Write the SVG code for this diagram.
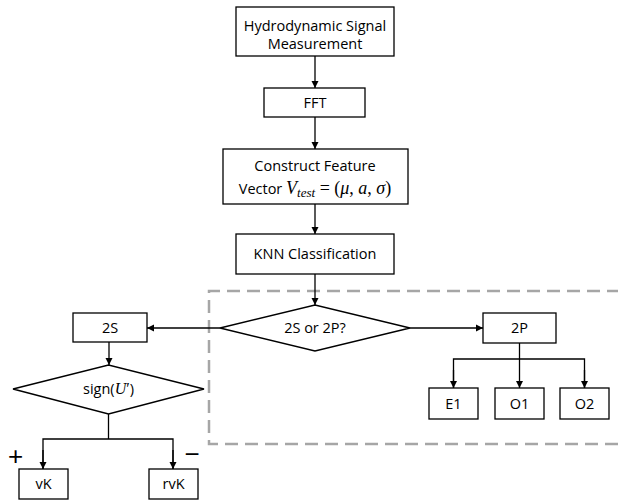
<svg xmlns="http://www.w3.org/2000/svg" width="618" height="501" viewBox="0 0 618 501">
<style>
.box{fill:#fff;stroke:#000;stroke-width:1.3}
.t{font-family:"Open Sans","Liberation Sans",sans-serif;font-size:14.5px;fill:#000;text-anchor:middle}
.m{font-family:"Liberation Serif",serif;font-style:italic}
.r{font-family:"Liberation Serif",serif}
.c{fill:none;stroke:#000;stroke-width:1.3}
.dash{fill:none;stroke:#a6a6a6;stroke-width:2.5;stroke-dasharray:13 7}
.sg{font-family:"Liberation Sans",sans-serif;font-size:26px;text-anchor:middle;fill:#000}
</style>
<defs>
<marker id="ah" markerWidth="8" markerHeight="8" refX="7" refY="4" orient="auto" markerUnits="userSpaceOnUse">
<path d="M0,0.5 L7,4 L0,7.5 Z" fill="#000"/>
</marker>
</defs>
<path class="dash" d="M620,291 H209 V444 H620"/>
<g id="connectors">
<line class="c" x1="315" y1="56" x2="315" y2="88" marker-end="url(#ah)"/>
<line class="c" x1="315" y1="117" x2="315" y2="149" marker-end="url(#ah)"/>
<line class="c" x1="315" y1="204" x2="315" y2="234" marker-end="url(#ah)"/>
<line class="c" x1="315" y1="274" x2="315" y2="305" marker-end="url(#ah)"/>
<line class="c" x1="220" y1="328" x2="147" y2="328" marker-end="url(#ah)"/>
<line class="c" x1="410" y1="328" x2="483" y2="328" marker-end="url(#ah)"/>
<line class="c" x1="519.5" y1="343" x2="519.5" y2="388" marker-end="url(#ah)"/>
<path class="c" d="M453.5,388 V359 H584.5 V388"/>
<line class="c" x1="453.5" y1="370" x2="453.5" y2="388" marker-end="url(#ah)"/>
<line class="c" x1="584.5" y1="370" x2="584.5" y2="388" marker-end="url(#ah)"/>
<line class="c" x1="109" y1="342" x2="109" y2="365" marker-end="url(#ah)"/>
<path class="c" d="M108.5,414 V439"/>
<path class="c" d="M43,469 V439 H173 V469"/>
<line class="c" x1="43" y1="450" x2="43" y2="469" marker-end="url(#ah)"/>
<line class="c" x1="173" y1="450" x2="173" y2="469" marker-end="url(#ah)"/>
</g>
<g id="n1"><rect class="box" x="236" y="7" width="158" height="49"/><text class="t" x="315" y="30.5">Hydrodynamic Signal</text><text class="t" x="315" y="49">Measurement</text></g>
<g id="n2"><rect class="box" x="264" y="88" width="101" height="29"/><text class="t" x="315" y="107.5">FFT</text></g>
<g id="n3"><rect class="box" x="223" y="149" width="185" height="55"/><text class="t" x="315" y="171">Construct Feature</text>
<text class="t" x="315" y="194">Vector <tspan class="m" font-size="18">V</tspan><tspan class="m" font-size="13" dy="3">test</tspan><tspan class="r" dy="-3" font-size="18"> = (</tspan><tspan class="m" font-size="18">μ</tspan><tspan class="r" font-size="18">, </tspan><tspan class="m" font-size="18">a</tspan><tspan class="r" font-size="18">, </tspan><tspan class="m" font-size="18">σ</tspan><tspan class="r" font-size="18">)</tspan></text></g>
<g id="n4"><rect class="box" x="236" y="234" width="158" height="40"/><text class="t" x="315" y="259">KNN Classification</text></g>
<g id="n5"><polygon class="box" points="220,328 315,305 410,328 315,351"/><text class="t" x="315" y="333">2S or 2P?</text></g>
<g id="n6"><rect class="box" x="483" y="313" width="73" height="30"/><text class="t" x="519.5" y="333">2P</text></g>
<g id="n7"><rect class="box" x="429" y="388" width="49" height="31"/><text class="t" x="453.5" y="408.5">E1</text></g>
<g id="n8"><rect class="box" x="495" y="388" width="49" height="31"/><text class="t" x="519.5" y="408.5">O1</text></g>
<g id="n9"><rect class="box" x="560" y="388" width="49" height="31"/><text class="t" x="584.5" y="408.5">O2</text></g>
<g id="n10"><rect class="box" x="73" y="313" width="74" height="29"/><text class="t" x="110" y="333">2S</text></g>
<g id="n11"><polygon class="box" points="13,389 108.5,365 204,389 108.5,414"/><text class="t" x="108.5" y="394">sign(<tspan class="m" font-size="16">U</tspan><tspan class="r" font-size="16">′</tspan>)</text></g>
<g id="n12"><rect class="box" x="19" y="469" width="49" height="30"/><text class="t" x="43.5" y="489">vK</text></g>
<g id="n13"><rect class="box" x="149" y="469" width="49" height="30"/><text class="t" x="173.5" y="489">rvK</text></g>
<text class="sg" x="15.5" y="465">+</text>
<text class="sg" x="192" y="463">−</text>
</svg>
